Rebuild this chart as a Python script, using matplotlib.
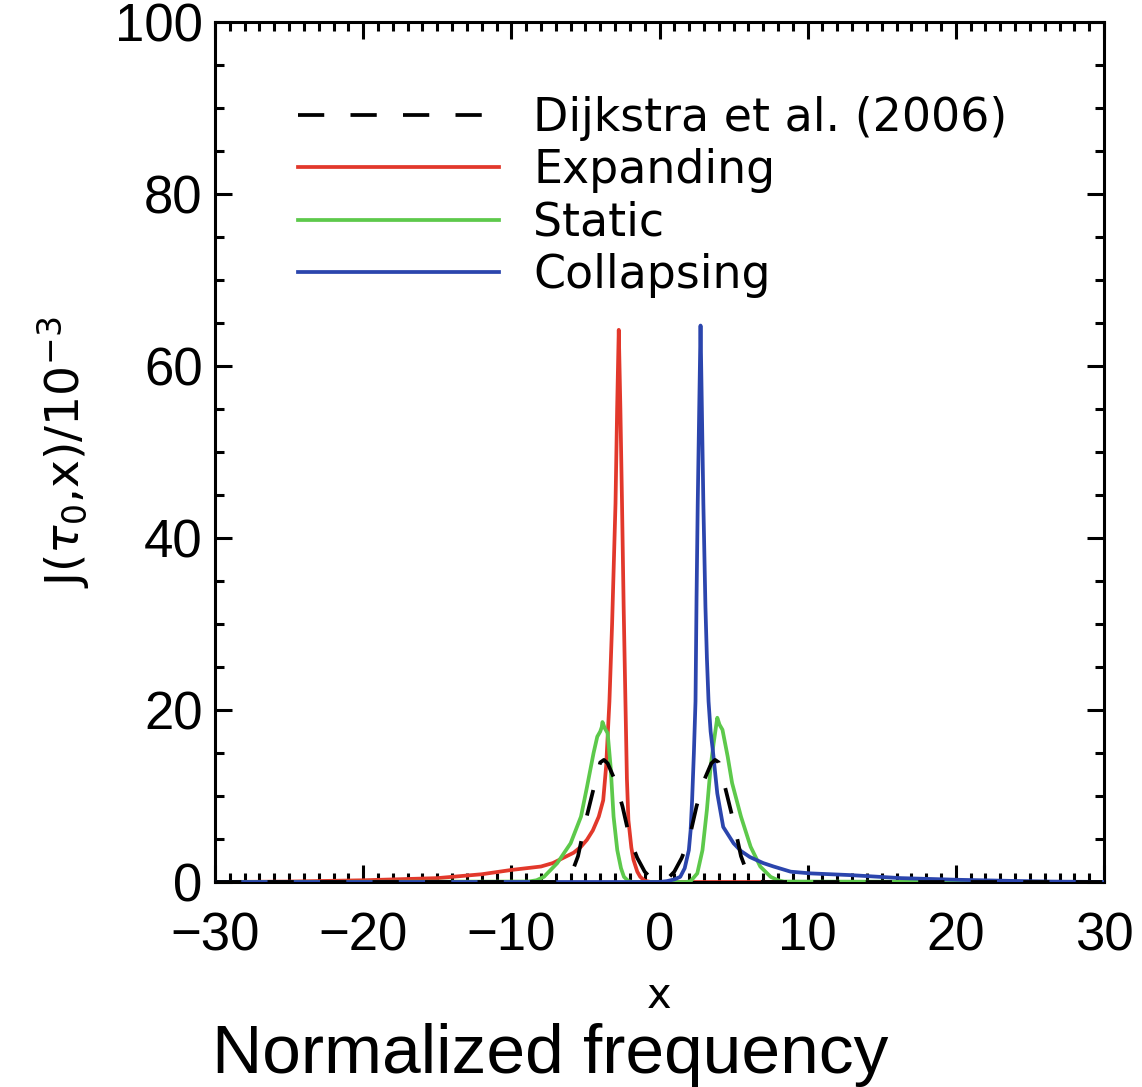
import numpy as np
import matplotlib
matplotlib.use("Agg")
import matplotlib.pyplot as plt
from matplotlib.ticker import MultipleLocator

plt.rcParams['font.family'] = ['Liberation Sans', 'DejaVu Sans']
plt.rcParams['mathtext.fontset'] = 'dejavusans'

# Dijkstra et al. (2006) analytic profile
x_dij = [-30, -7.0, -6.5, -6.0, -5.5, -5.0, -4.5, -4.0, -3.75, -3.5, -3.0, -2.5, -2.0, -1.5, -1.0, -0.5, 0.0,
         0.5, 1.0, 1.5, 2.0, 2.5, 3.0, 3.5, 3.75, 4.0, 4.5, 5.0, 5.5, 6.0, 6.5, 7.0, 30]
y_dij = [0, 0.0, 0.1, 0.7, 3.0, 7.0, 10.5, 13.9, 14.2, 13.8, 11.8, 8.8, 5.0, 2.8, 1.2, 0.3, 0.0,
         0.3, 1.2, 2.8, 5.0, 8.8, 11.8, 13.8, 14.2, 13.9, 10.5, 7.0, 3.0, 0.7, 0.1, 0.0, 0]

# expanding
x_exp = [-30, -25, -20, -15, -12, -10, -8.0, -7.2, -6.5, -5.8, -5.3, -4.9, -4.5, -4.1, -3.8, -3.6, -3.38,
         -3.2, -2.97, -2.86, -2.75, -2.64, -2.53, -2.42, -2.3, -2.2, -2.1, -1.9, -1.76, -1.5, -1.3, -1.0,
         -0.6, 0.0, 30]
y_exp = [0.0, 0.05, 0.2, 0.45, 0.9, 1.4, 1.8, 2.2, 2.8, 3.4, 4.1, 4.9, 6.0, 7.6, 9.5, 13.5, 21,
         30, 44, 55, 64.2, 55, 44, 32, 21, 12, 7.2, 4.0, 2.6, 1.2, 0.6, 0.15,
         0.0, 0.0, 0.0]

# static
x_sta = [-30, -8.85, -8.3, -7.8, -6.9, -6.0, -5.3, -4.9, -4.45, -4.2, -4.0, -3.9, -3.85, -3.7, -3.5,
         -3.3, -3.1, -2.85, -2.6, -2.4, -2.1, -1.8, 1.8, 2.1, 2.55, 2.9, 3.2, 3.45, 3.65, 3.9, 4.05,
         4.25, 4.6, 4.9, 5.5, 6.15, 6.8, 7.5, 8.0, 8.4, 30]
y_sta = [0, 0.05, 0.2, 0.6, 2.2, 4.5, 7.6, 11, 15, 16.9, 17.5, 18.0, 18.6, 17.9, 17.3,
         13.4, 7.6, 3.7, 1.6, 0.6, 0.1, 0.0, 0.0, 0.1, 1.0, 3.7, 8.4, 13.4, 16.1, 19.1, 18.3,
         17.7, 14.6, 11.5, 7.6, 4.1, 1.8, 0.6, 0.2, 0.05, 0]

# collapsing
x_col = [-30, 0.0, 0.5, 1.0, 1.4, 1.7, 1.98, 2.1, 2.2, 2.32, 2.43, 2.5, 2.58, 2.68, 2.77, 2.86, 2.96,
         3.1, 3.2, 3.31, 3.45, 3.6, 3.9, 4.3, 5.0, 5.5, 6.1, 7.0, 7.7, 8.85, 10.2, 12.9, 16.3, 20.3,
         24, 26.4, 30]
y_col = [0, 0, 0.1, 0.3, 0.6, 1.6, 3.7, 6.0, 9.5, 15, 21, 33, 44, 55, 64.7, 55, 44,
         32, 26, 21, 17.5, 15.3, 10.3, 6.4, 4.5, 3.6, 2.9, 2.2, 1.8, 1.2, 1.0, 0.8, 0.45, 0.25,
         0.12, 0.05, 0.0]

fig = plt.figure(figsize=(11.42, 10.87), dpi=100)
ax = fig.add_axes([0.1883, 0.1886, 0.7784, 0.7912])

lw = 2.7
ax.plot(x_exp, y_exp, color='#e2382b', lw=lw, label='Expanding', zorder=2)
ax.plot(x_sta, y_sta, color='#5dc94b', lw=lw, label='Static', zorder=3)
ax.plot(x_col, y_col, color='#2b45ad', lw=lw, label='Collapsing', zorder=4)
ax.plot(x_dij, y_dij, color='black', lw=lw, dashes=(7, 7),
        label='Dijkstra et al. (2006)', zorder=5)

ax.set_xlim(-30, 30)
ax.set_ylim(0, 100)
ax.xaxis.set_major_locator(MultipleLocator(10))
ax.xaxis.set_minor_locator(MultipleLocator(1))
ax.yaxis.set_major_locator(MultipleLocator(20))
ax.yaxis.set_minor_locator(MultipleLocator(5))
ax.tick_params(which='both', direction='in', top=True, right=True, width=2.2)
ax.tick_params(which='major', length=12)
ax.tick_params(which='minor', length=6.5)
ax.tick_params(axis='x', which='major', pad=21, labelsize=38)
ax.tick_params(axis='y', which='major', pad=9, labelsize=38)
for sp in ax.spines.values():
    sp.set_linewidth(2.2)

ax.set_xlabel('x', fontsize=30, labelpad=10, family='DejaVu Sans')
ax.set_ylabel(r'J($\tau_0$,x)/10$^{-3}$', fontsize=34, labelpad=16, family='DejaVu Sans')

handles, labels = ax.get_legend_handles_labels()
order = [3, 0, 1, 2]
ax.legend([handles[i] for i in order], [labels[i] for i in order],
          loc='upper left', bbox_to_anchor=(0.093, 0.914), frameon=False,
          prop={'family': 'DejaVu Sans', 'size': 33},
          handlelength=4.4, handletextpad=0.74, labelspacing=0.16,
          borderpad=0, borderaxespad=0)

fig.text(0.4816, 0.013, 'Normalized frequency', fontsize=50, ha='center', va='baseline')

fig.savefig('out.png', dpi=100)
